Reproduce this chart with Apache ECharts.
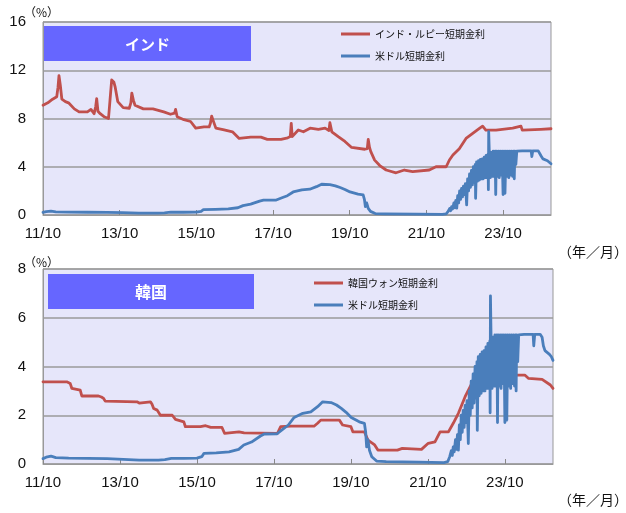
<!DOCTYPE html>
<html><head><meta charset="utf-8">
<script src="https://cdn.jsdelivr.net/npm/echarts@6/dist/echarts.min.js"></script>
<style>html,body{margin:0;padding:0;background:#fff}#c{width:626px;height:513px}</style>
</head><body><div id="c"></div><script>
// x values: months elapsed since Oct 2011
const xTickLabels = ['11/10','13/10','15/10','17/10','19/10','21/10','23/10'];
const monthsPerTick = 24;
const xMaxMonths = 159;

const inrRate = [[0,9.1],[1.5,9.3],[3,9.6],[4.3,9.8],[4.7,10.6],[5.0,11.55],[5.4,10.8],[5.9,9.6],[7,9.4],[8,9.3],[9.8,8.8],[11.3,8.55],[13.9,8.55],[15,8.75],[16,8.4],[16.5,9.0],[16.8,9.65],[17.2,8.6],[17.9,8.4],[19.1,8.15],[20.5,8.0],[21.0,9.6],[21.5,11.2],[22.2,11.0],[22.6,10.6],[23.4,9.4],[25.1,8.9],[27,8.85],[27.5,9.3],[27.8,10.1],[28.3,9.5],[28.8,9.1],[31.4,8.8],[34.4,8.8],[37.8,8.55],[39.9,8.35],[41.2,8.45],[41.5,8.75],[42,8.15],[44.1,7.9],[46.2,7.75],[47.8,7.2],[50.4,7.3],[52,7.3],[52.4,7.6],[52.8,8.2],[53.3,7.8],[54.1,7.2],[56.7,7.05],[59.3,6.9],[61.4,6.35],[65,6.45],[68.2,6.45],[70.2,6.27],[74.5,6.27],[76.6,6.4],[77.4,6.5],[77.7,7.6],[78,6.5],[79.9,7.05],[81.5,6.9],[83.6,7.2],[86.2,7.1],[88.3,7.2],[89.5,7.0],[89.8,7.65],[90.4,6.9],[92.4,6.5],[94.5,6.1],[96.6,5.6],[100.7,5.45],[101.5,5.5],[101.8,6.27],[102.2,5.6],[102.6,5.25],[103.8,4.55],[105.4,4.1],[107.4,3.73],[110.5,3.5],[113.1,3.73],[115.7,3.6],[120.9,3.73],[123,4.0],[126.2,4.0],[127.2,4.56],[128.3,4.97],[130.3,5.5],[132.4,6.35],[134.5,6.77],[136.6,7.18],[137.6,7.37],[138.6,7.04],[141.8,7.04],[147,7.2],[149.6,7.37],[150,7.04],[155.8,7.1],[159,7.15]];

const krwRate = [[0,3.37],[7.4,3.37],[8.5,3.3],[9,3.1],[9.5,3.03],[11.6,3.03],[12.1,2.79],[17.3,2.79],[18.2,2.75],[18.9,2.69],[19.4,2.58],[29.3,2.55],[30,2.5],[30.5,2.55],[33.5,2.55],[34,2.45],[34.5,2.28],[35.6,2.21],[36.6,2.0],[40.3,2.0],[41.3,1.83],[43.9,1.73],[44.4,1.53],[49.1,1.53],[50.7,1.57],[52.3,1.5],[55.8,1.5],[56.6,1.26],[61.1,1.32],[62.7,1.28],[73.1,1.26],[74.1,1.53],[77.3,1.55],[84.5,1.55],[85.6,1.67],[86.6,1.8],[92.4,1.8],[93.4,1.6],[96,1.53],[96.6,1.32],[100.2,1.32],[101.3,0.98],[103.4,0.78],[104.4,0.57],[110.5,0.57],[112,0.64],[118,0.6],[120.1,0.85],[122.2,0.91],[123.8,1.32],[126.4,1.32],[127.9,1.67],[129.5,2.08],[131.6,2.76],[133.7,3.31],[136.8,3.51],[138.7,3.58],[141,3.6],[145.2,3.65],[150.2,3.65],[151.4,3.51],[155.6,3.47],[158.2,3.24],[159,3.1]];

const usdRate = [[0,0.22],[1,0.28],[2.5,0.32],[4,0.26],[8,0.24],[14,0.23],[20,0.22],[25,0.19],[30,0.16],[36,0.16],[38,0.18],[40,0.23],[44,0.23],[48,0.24],[49.5,0.3],[50.2,0.44],[54,0.46],[58,0.5],[61,0.6],[62.6,0.78],[65,0.9],[67.8,1.15],[69,1.23],[73,1.24],[75,1.45],[76.5,1.6],[78.3,1.91],[81,2.08],[83.5,2.14],[85.6,2.35],[87.2,2.55],[89.8,2.52],[91.5,2.42],[93,2.28],[94.5,2.12],[96.1,1.91],[98.6,1.73],[100.2,1.67],[100.6,1.3],[100.9,0.7],[101.3,1.0],[101.8,0.55],[102.5,0.3],[104,0.12],[107,0.1],[117,0.08],[125,0.06],[126.2,0.1],
[126.8,0.3],[127.3,0.55],[127.6,0.35],[127.9,0.7],[128.2,0.5],[128.6,1.0],[128.9,0.6],[129.2,1.2],[129.5,0.57],[129.8,1.6],[130.1,1.0],[130.4,2.0],[130.7,1.3],[131,2.2],[131.3,1.5],[131.6,2.4],[131.9,1.7],[132.2,2.6],[132.6,0.84],[132.9,3.0],[133.2,2.0],[133.5,3.4],[133.8,2.3],[134.1,3.7],[134.4,2.5],[134.7,4.0],[135,2.7],[135.3,4.2],[135.4,1.38],[135.7,4.4],[136,2.8],[136.3,4.5],[136.6,2.9],[136.9,4.6],[137.2,3.0],[137.5,4.65],[137.8,3.0],[138.1,4.8],[138.4,3.1],[138.7,4.95],[139,3.1],[139.3,5.05],[139.4,2.1],[139.5,6.9],[139.7,5.1],[140,3.1],[140.3,5.2],[140.6,3.2],[140.9,5.3],[141.2,3.2],[141.5,5.3],[141.7,1.7],[141.9,5.3],[142.2,3.2],[142.5,5.3],[142.8,3.1],[143.1,5.3],[143.4,3.3],[143.7,5.3],[144,1.7],[144.3,5.3],[144.6,1.8],[144.9,5.3],[145.2,3.2],[145.5,5.3],[145.8,3.1],[146.1,5.3],[146.4,3.3],[146.7,5.3],[147,3.2],[147.3,5.3],[147.5,3.0],[147.7,5.3],[148,4.2],[148.3,5.3],[150,5.32],[152.8,5.32],[153,4.85],[153.3,5.32],[155,5.32],[155.6,5.2],[156,4.85],[156.5,4.65],[157,4.7],[157.9,4.5],[158.5,4.4],[159,4.25]];

const indiaNames = ['インド・ルピー短期金利','米ドル短期金利'];
const koreaNames = ['韓国ウォン短期金利','米ドル短期金利'];
const RED = '#C0504D', BLUE = '#4A7EBB';
const numFont = 'Liberation Sans';
const jpFont = 'Noto Sans CJK JP';

function xAxisFor(gi){
  return { type:'value', gridIndex:gi, min:0, max:xMaxMonths, interval:monthsPerTick,
    axisLine:{show:true, lineStyle:{color:'#999', width:1}},
    axisTick:{show:true, inside:true, length:5, lineStyle:{color:'#888'}},
    axisLabel:{formatter: v => xTickLabels[v/monthsPerTick] || '', showMaxLabel:false, color:'#111', fontSize:15, fontFamily:numFont, margin:11},
    splitLine:{show:false} };
}
function yAxisFor(gi, max, step){
  return { type:'value', gridIndex:gi, min:0, max:max, interval:step,
    axisLine:{show:true, lineStyle:{color:'#999'}}, axisTick:{show:false},
    axisLabel:{color:'#111', fontSize:15, fontFamily:numFont, margin:17},
    splitLine:{show:true, lineStyle:{color:'#9a9a9a', width:1.5}} };
}
function lineSeries(name, data, color, xi){
  return { type:'line', name:name, data:data, xAxisIndex:xi, yAxisIndex:xi,
    showSymbol:false, symbol:'none', lineStyle:{color:color, width:2.8, join:'round', cap:'round'}, itemStyle:{color:color} };
}
const legendBase = { orient:'vertical', itemWidth:29, itemHeight:3, itemGap:8, icon:'rect', padding:0, selectedMode:false,
  textStyle:{fontSize:10, color:'#111', fontFamily:jpFont, lineHeight:14} };

const chart = echarts.init(document.getElementById('c'));
chart.setOption({
  animation:false,
  backgroundColor:'#fff',
  grid:[
    {left:43, top:22, width:508, height:193, show:true, backgroundColor:'#E6E6FA', borderColor:'#999', borderWidth:1, outerBoundsMode:'none'},
    {left:43, top:269, width:510, height:195, show:true, backgroundColor:'#E6E6FA', borderColor:'#999', borderWidth:1, outerBoundsMode:'none'}
  ],
  xAxis:[xAxisFor(0), xAxisFor(1)],
  yAxis:[yAxisFor(0,16,4), yAxisFor(1,8,2)],
  legend:[
    Object.assign({}, legendBase, {left:341, top:27, data:indiaNames}),
    Object.assign({}, legendBase, {left:314, top:276, data:koreaNames})
  ],
  series:[
    lineSeries(indiaNames[0], inrRate, RED, 0),
    lineSeries(indiaNames[1], usdRate, BLUE, 0),
    lineSeries(koreaNames[0], krwRate, RED, 1),
    lineSeries(koreaNames[1], usdRate, BLUE, 1)
  ],
  graphic:[
    {type:'rect', shape:{x:44, y:26, width:207, height:35}, style:{fill:'#6666FF'}, z:5},
    {type:'text', style:{text:'インド', x:147.5, y:44, textAlign:'center', textVerticalAlign:'middle', fill:'#fff', font:'bold 15px "Noto Sans CJK JP"'}, z:6},
    {type:'rect', shape:{x:48, y:274, width:206, height:35}, style:{fill:'#6666FF'}, z:5},
    {type:'text', style:{text:'韓国', x:151, y:292, textAlign:'center', textVerticalAlign:'middle', fill:'#fff', font:'bold 16px "Noto Sans CJK JP"'}, z:6},
    {type:'text', style:{text:'（%）', x:24, y:12, textAlign:'left', textVerticalAlign:'middle', fill:'#111', font:'12px "Noto Sans CJK JP"'}},
    {type:'text', style:{text:'（%）', x:24, y:262, textAlign:'left', textVerticalAlign:'middle', fill:'#111', font:'12px "Noto Sans CJK JP"'}},
    {type:'text', style:{text:'（年／月）', x:558, y:252, textAlign:'left', textVerticalAlign:'middle', fill:'#111', font:'14px "Noto Sans CJK JP"'}},
    {type:'text', style:{text:'（年／月）', x:558, y:500, textAlign:'left', textVerticalAlign:'middle', fill:'#111', font:'14px "Noto Sans CJK JP"'}}
  ]
});
</script></body></html>
